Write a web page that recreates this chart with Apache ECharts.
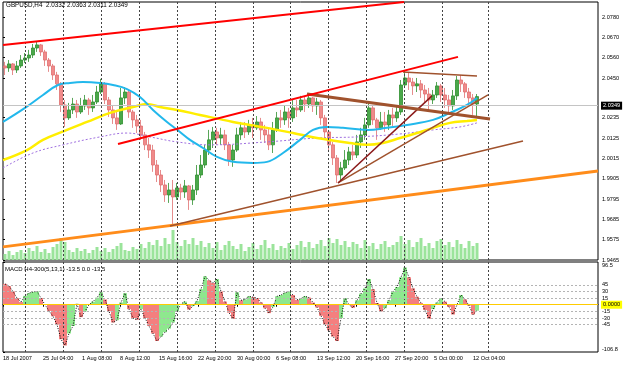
<!DOCTYPE html>
<html>
<head>
<meta charset="utf-8">
<script src="https://cdn.jsdelivr.net/npm/echarts@6/dist/echarts.min.js"></script>
<style>
  html, body { margin: 0; padding: 0; background: #fff; }
  #chart { width: 625px; height: 365px; }
</style>
</head>
<body>
<div id="chart"></div>
<script>
// GBPUSD H4 - one slot on the x axis = one candle
const firstOpen = 2.0515
const closes = [
  2.0504, 2.0526, 2.0493, 2.0515, 2.0547, 2.0558, 2.0574, 2.0612, 2.0629, 2.0591,
  2.0547, 2.0515, 2.0466, 2.0418, 2.0304, 2.0234, 2.0277, 2.0309, 2.0266, 2.0299,
  2.0331, 2.0288, 2.0320, 2.0374, 2.0418, 2.0331, 2.0277, 2.0234, 2.0201, 2.0342,
  2.0374, 2.0266, 2.0223, 2.0190, 2.0142, 2.0088, 2.0060, 1.9979, 1.9925, 1.9871,
  1.9817, 1.9844, 1.9806, 1.9855, 1.9833, 1.9866, 1.9790, 1.9844, 1.9925, 1.9979,
  2.0060, 2.0115, 2.0158, 2.0125, 2.0142, 2.0088, 2.0006, 2.0060, 2.0142, 2.0180,
  2.0158, 2.0196, 2.0180, 2.0212, 2.0169, 2.0142, 2.0088, 2.0169, 2.0234, 2.0223,
  2.0266, 2.0234, 2.0288, 2.0277, 2.0331, 2.0309, 2.0342, 2.0299, 2.0320, 2.0234,
  2.0158, 2.0088, 2.0017, 1.9925, 1.9963, 2.0006, 2.0050, 2.0033, 2.0104, 2.0142,
  2.0196, 2.0288, 2.0223, 2.0180, 2.0212, 2.0196, 2.0250, 2.0234, 2.0266, 2.0412,
  2.0450, 2.0428, 2.0407, 2.0418, 2.0385, 2.0363, 2.0331, 2.0358, 2.0407, 2.0358,
  2.0331, 2.0299, 2.0353, 2.0439, 2.0418, 2.0374, 2.0342, 2.0309, 2.0349
]
const highs = [
  2.0537, 2.0547, 2.0531, 2.0542, 2.0574, 2.0585, 2.0602, 2.0634, 2.0645, 2.0634,
  2.0602, 2.0558, 2.0526, 2.0483, 2.0428, 2.0331, 2.0315, 2.0342, 2.0331, 2.0342,
  2.0358, 2.0342, 2.0358, 2.0407, 2.0445, 2.0428, 2.0347, 2.0299, 2.0266, 2.0396,
  2.0401, 2.0385, 2.0277, 2.0250, 2.0223, 2.0158, 2.0125, 2.0088, 2.0006, 1.9952,
  1.9898, 1.9882, 1.9898, 1.9882, 1.9877, 1.9898, 1.9871, 1.9871, 1.9979, 2.0033,
  2.0088, 2.0169, 2.0185, 2.0180, 2.0180, 2.0169, 2.0104, 2.0088, 2.0180, 2.0212,
  2.0212, 2.0223, 2.0234, 2.0244, 2.0234, 2.0196, 2.0180, 2.0212, 2.0266, 2.0277,
  2.0299, 2.0288, 2.0331, 2.0331, 2.0353, 2.0353, 2.0369, 2.0347, 2.0342, 2.0331,
  2.0250, 2.0169, 2.0104, 2.0033, 1.9996, 2.0060, 2.0077, 2.0088, 2.0142, 2.0180,
  2.0234, 2.0315, 2.0304, 2.0234, 2.0266, 2.0266, 2.0277, 2.0288, 2.0299, 2.0439,
  2.0493, 2.0477, 2.0450, 2.0450, 2.0439, 2.0412, 2.0396, 2.0385, 2.0428, 2.0418,
  2.0396, 2.0358, 2.0385, 2.0461, 2.0466, 2.0428, 2.0396, 2.0363, 2.0363
]
const lows = [
  2.0466, 2.0483, 2.0466, 2.0477, 2.0504, 2.0531, 2.0537, 2.0558, 2.0591, 2.0569,
  2.0515, 2.0483, 2.0439, 2.0385, 2.0266, 2.0185, 2.0223, 2.0255, 2.0234, 2.0255,
  2.0277, 2.0250, 2.0266, 2.0309, 2.0363, 2.0309, 2.0239, 2.0201, 2.0169, 2.0196,
  2.0309, 2.0234, 2.0180, 2.0152, 2.0115, 2.0060, 2.0017, 1.9942, 1.9887, 1.9833,
  1.9779, 1.9774, 1.9655, 1.9790, 1.9790, 1.9801, 1.9736, 1.9763, 1.9817, 1.9909,
  1.9963, 2.0033, 2.0071, 2.0088, 2.0088, 2.0060, 1.9974, 1.9969, 2.0050, 2.0115,
  2.0125, 2.0142, 2.0125, 2.0169, 2.0115, 2.0098, 2.0060, 2.0044, 2.0158, 2.0180,
  2.0196, 2.0180, 2.0212, 2.0239, 2.0266, 2.0266, 2.0288, 2.0266, 2.0250, 2.0196,
  2.0115, 2.0050, 1.9979, 1.9882, 1.9887, 1.9952, 1.9979, 2.0006, 2.0017, 2.0071,
  2.0115, 2.0180, 2.0196, 2.0115, 2.0169, 2.0158, 2.0169, 2.0190, 2.0212, 2.0250,
  2.0396, 2.0385, 2.0358, 2.0374, 2.0342, 2.0320, 2.0277, 2.0309, 2.0342, 2.0320,
  2.0288, 2.0266, 2.0277, 2.0331, 2.0374, 2.0342, 2.0309, 2.0250, 2.0239
]
const volumes = [
  600, 900, 500, 800, 1000, 700, 1200, 900, 1400, 800,
  1100, 700, 1300, 1600, 2200, 1800, 1000, 800, 1200, 900,
  1100, 700, 1000, 1300, 900, 1200, 800, 1100, 1400, 1700,
  1000, 900, 1300, 1100, 1600, 1200, 1800, 1500, 2000, 1400,
  2200, 1600, 3000, 1800, 1400, 2000, 1600, 2200, 1500, 1900,
  1300, 1700, 1200, 1800, 1000, 1500, 1900, 1400, 1100, 1600,
  900, 1300, 1700, 1100, 1500, 2000, 1200, 1600, 1000, 1400,
  1200, 1700, 1100, 1500, 1900, 1300, 1800, 1200, 1600, 2000,
  1400, 2200, 1700, 2100, 1500, 1900, 1300, 1800, 1600, 1200,
  2000, 1400, 1700, 1100, 1600, 1900, 1300, 1500, 1800, 2400,
  1600, 2000, 1300, 1800, 2200, 1400, 1700, 1200, 1900, 2100,
  1500, 1800, 1300, 2000, 1600, 1200, 1900, 1400, 1700
]
// MACD(5,13,1) histogram, signal = main with period 1
const macd = [
  47, 42, 30, 15, 6, 20, 26, 29, 30, 15,
  0, -14, -26, -45, -78, -92, -65, -48, 2, -28,
  -15, 0, 7, 16, 28, 12, -15, -40, -35, 5,
  26, -10, -30, -34, -10, -30, -48, -65, -82, -72,
  -62, -54, -40, -15, 2, 7, -11, -3, 8, 35,
  64, 55, 49, 58, 30, 7, -18, -32, 28, 10,
  12, 19, 17, 15, 5, -8, -19, -5, 19, 22,
  27, 30, 22, 11, 14, 19, 16, 5, -6, -25,
  -45, -58, -72, -82, -30, 15, 0, -7, 10, 25,
  37, 58, 35, 4, -15, -8, 10, 30, 40, 62,
  84, 62, 37, 18, 4, -12, -32, -10, 5, 15,
  7, -5, -22, 0, 22, 12, -2, -22, -13.5
]

// moving averages: [slot, price]
const maBlue = [[0, 2.0212], [5.5, 2.0288], [10, 2.0358], [13.75, 2.0412], [16.75, 2.0423], [20, 2.0428],
  [24.25, 2.0423], [27.5, 2.0412], [31, 2.0390], [34.25, 2.0347], [37.5, 2.0277], [41, 2.0212],
  [44.25, 2.0158], [46.75, 2.0115], [50, 2.0071], [53.5, 2.0023], [57.5, 1.9996], [62.5, 1.9990],
  [66, 1.9996], [70, 2.0044], [74.25, 2.0115], [77.5, 2.0169], [81, 2.0185], [85, 2.0180],
  [91, 2.0169], [96, 2.0180], [101, 2.0196], [107.5, 2.0223], [111.75, 2.0261], [116, 2.0304], [118.5, 2.0342]]
const maYellow = [[0, 2.0006], [6, 2.0060], [10, 2.0115], [16, 2.0169], [21, 2.0212], [26.75, 2.0261],
  [32.5, 2.0293], [36, 2.0309], [39.25, 2.0293], [43.5, 2.0277], [49.25, 2.0250], [57.5, 2.0212],
  [66, 2.0180], [72.5, 2.0152], [78.5, 2.0125], [86.75, 2.0098], [91, 2.0088], [95, 2.0098],
  [99.25, 2.0125], [103.5, 2.0152], [107.5, 2.0180], [111.75, 2.0207], [116, 2.0217], [118.5, 2.0223]]
const maPurple = [[0, 1.9963], [7.5, 2.0044], [15, 2.0088], [24.25, 2.0131], [31, 2.0152], [36.75, 2.0131],
  [43.5, 2.0104], [51.75, 2.0088], [66, 2.0104], [78.5, 2.0125], [88.5, 2.0131], [99.25, 2.0147],
  [107.5, 2.0169], [114.25, 2.0185], [118.5, 2.0207]]

// trend lines: two end points each
const redTop = [[0, 2.0628], [100.25, 2.0861]]
const redChannel = [[28.75, 2.0093], [113.75, 2.0564]]
const brownThick = [[76, 2.0363], [121.75, 2.0228]]
const brownFlat = [[100, 2.0482], [118.5, 2.0461]]
const maroonFan = [[83.75, 1.9882], [107.25, 2.0353]]
const brownFan = [[83.75, 1.9882], [121.25, 2.0358]]
const brownLong = [[41.75, 1.9649], [130, 2.0109]]
const orangeLong = [[0, 1.9536], [148.75, 1.9947]]

const bid = 2.0349
const priceTicks = [1.9465, 1.9575, 1.9685, 1.9795, 1.9905, 2.0015, 2.0125, 2.0235, 2.0450, 2.0560, 2.0670, 2.0780]
const macdTicks = [-106.8, -45, -30, -15, 15, 30, 45, 96.5]
const macdLevels = [45, 30, 15, -15, -30, -45]
const separators = [5.68, 15, 24.68, 34, 43.68, 53.18, 62.5, 71.93, 81.25, 90.93, 100.25, 109.93, 121.25]
const labelSlots = [0, 10, 19.75, 29.25, 39, 48.75, 58.5, 68.25, 78.5, 88.25, 98, 107.75, 117.5]
const dateLabels = ['18 Jul 2007', '25 Jul 04:00', '1 Aug 08:00', '8 Aug 12:00', '15 Aug 16:00', '22 Aug 20:00',
  '30 Aug 00:00', '6 Sep 08:00', '13 Sep 12:00', '20 Sep 16:00', '27 Sep 20:00', '5 Oct 00:00', '12 Oct 04:00']

const font = 'Liberation Sans'
const opens = [firstOpen].concat(closes.slice(0, -1))
const candles = closes.map((c, i) => [i + 0.5, opens[i], c, lows[i], highs[i]])
const volData = volumes.map((v, i) => [i + 0.5, v])
const macdBars = macd.map((v, i) => ({
  value: [i + 0.5, v],
  itemStyle: { color: i > 0 && v > macd[i - 1] ? '#8ee88e' : '#f47f7f' }
}))
const macdLine = macd.map((v, i) => [i + 0.5, v])
const sepLines = separators.map(s => ({ xAxis: s }))

function trend(data, color, width) {
  return {
    type: 'line', xAxisIndex: 0, yAxisIndex: 0, data: data,
    symbol: 'none', silent: true, z: 5,
    lineStyle: { color: color, width: width }
  }
}
function ma(data, color, width, type) {
  return {
    type: 'line', xAxisIndex: 0, yAxisIndex: 0, data: data, smooth: 0.4,
    symbol: 'none', silent: true, z: 4,
    lineStyle: { color: color, width: width, type: type || 'solid' }
  }
}

const chart = echarts.init(document.getElementById('chart'))
chart.setOption({
  animation: false,
  backgroundColor: '#fff',
  title: [
    { text: 'GBPUSD,H4  2.0332 2.0363 2.0311 2.0349', left: 6, top: 2, padding: 0,
      textStyle: { fontSize: 6.3, fontWeight: 'normal', color: '#000', fontFamily: font } },
    { text: 'MACD H4-300(5,13,1) -13.5 0.0 -13.5', left: 5, top: 266, padding: 0,
      textStyle: { fontSize: 6, fontWeight: 'normal', color: '#000', fontFamily: font } }
  ],
  grid: [
    { left: 3, right: 27, top: 2, height: 258, show: true, borderColor: '#000', borderWidth: 1 },
    { left: 3, right: 27, top: 262, height: 90, show: true, borderColor: '#000', borderWidth: 1 }
  ],
  xAxis: [
    { type: 'value', gridIndex: 0, min: 0, max: 148.75, show: false },
    { type: 'value', gridIndex: 1, min: 0, max: 148.75,
      axisLine: { show: true, lineStyle: { color: '#000' } },
      axisTick: { show: true, length: 2, customValues: labelSlots, lineStyle: { color: '#000' } },
      splitLine: { show: false },
      axisLabel: {
        customValues: labelSlots, align: 'left', margin: 3, fontSize: 5.6, color: '#000', fontFamily: font,
        formatter: v => {
          const k = labelSlots.findIndex(s => Math.abs(s - v) < 1e-6)
          return k < 0 ? '' : dateLabels[k]
        }
      }
    }
  ],
  yAxis: [
    { type: 'value', gridIndex: 0, position: 'right', min: 1.9465, max: 2.0861,
      axisLine: { show: false }, splitLine: { show: false },
      axisTick: { show: true, length: 2, customValues: priceTicks, lineStyle: { color: '#000' } },
      axisLabel: { customValues: priceTicks, margin: 4, fontSize: 5.6, color: '#000', fontFamily: font,
        formatter: v => v.toFixed(4) } },
    { type: 'value', gridIndex: 0, min: 0, max: 25800, show: false },
    { type: 'value', gridIndex: 1, position: 'right', min: -106.8, max: 96.5,
      axisLine: { show: false }, splitLine: { show: false },
      axisTick: { show: true, length: 2, customValues: macdTicks, lineStyle: { color: '#000' } },
      axisLabel: { customValues: macdTicks, margin: 4, fontSize: 5.6, color: '#000', fontFamily: font,
        verticalAlignMaxLabel: 'top', verticalAlignMinLabel: 'bottom',
        formatter: v => String(v) } }
  ],
  series: [
    {
      type: 'bar', xAxisIndex: 0, yAxisIndex: 1, data: volData, barWidth: 3,
      itemStyle: { color: '#9be49b' }, silent: true, z: 1
    },
    {
      type: 'candlestick', xAxisIndex: 0, yAxisIndex: 0, data: candles,
      encode: { x: 0, y: [1, 2, 3, 4] },
      barWidth: 3, silent: true, z: 2,
      itemStyle: { color: '#4aa84a', color0: '#f08a8a', borderColor: '#2f8f2f', borderColor0: '#e07070', borderWidth: 0.8 },
      markLine: {
        symbol: 'none', silent: true, animation: false,
        data: sepLines.map(d => Object.assign({
          lineStyle: { color: '#444', type: [2, 2], width: 1 }, label: { show: false }
        }, d)).concat([{
          yAxis: bid,
          lineStyle: { color: '#c4c4c4', type: 'solid', width: 1 },
          label: { show: true, position: 'end', distance: 3, formatter: bid.toFixed(4),
            backgroundColor: '#000', color: '#fff', fontSize: 5.6, fontFamily: font, padding: [1, 2] }
        }])
      }
    },
    ma(maPurple, '#a070e0', 1, [2, 2]),
    ma(maYellow, '#ffee00', 2.5),
    ma(maBlue, '#22b8ec', 2),
    trend(orangeLong, '#ff8c1a', 3),
    trend(brownLong, '#a0522d', 1.5),
    trend(brownFan, '#a0522d', 1.5),
    trend(maroonFan, '#8b1a1a', 1.5),
    trend(brownFlat, '#a0522d', 1.5),
    trend(brownThick, '#a0522d', 3),
    trend(redChannel, '#ff0000', 2),
    trend(redTop, '#ff0000', 2),
    {
      type: 'bar', xAxisIndex: 1, yAxisIndex: 2, data: macdBars, barWidth: 4, silent: true, z: 2,
      markLine: {
        symbol: 'none', silent: true, animation: false,
        data: sepLines.map(d => Object.assign({
          lineStyle: { color: '#444', type: [2, 2], width: 1 }, label: { show: false }
        }, d)).concat(macdLevels.map(v => ({
          yAxis: v, lineStyle: { color: '#b4b4b4', type: [2, 2], width: 1 }, label: { show: false }
        }))).concat([{
          yAxis: 0,
          lineStyle: { color: '#ffcc00', type: 'solid', width: 1 },
          label: { show: true, position: 'end', distance: 3, formatter: '0.0000',
            backgroundColor: '#ffff00', color: '#000', fontSize: 5.6, fontFamily: font, padding: [1, 2] }
        }])
      }
    },
    {
      type: 'line', xAxisIndex: 1, yAxisIndex: 2, data: macdLine, symbol: 'none', silent: true, z: 3,
      lineStyle: { color: '#000', width: 1, type: [1, 1.5] }
    }
  ]
})
</script>
</body>
</html>
